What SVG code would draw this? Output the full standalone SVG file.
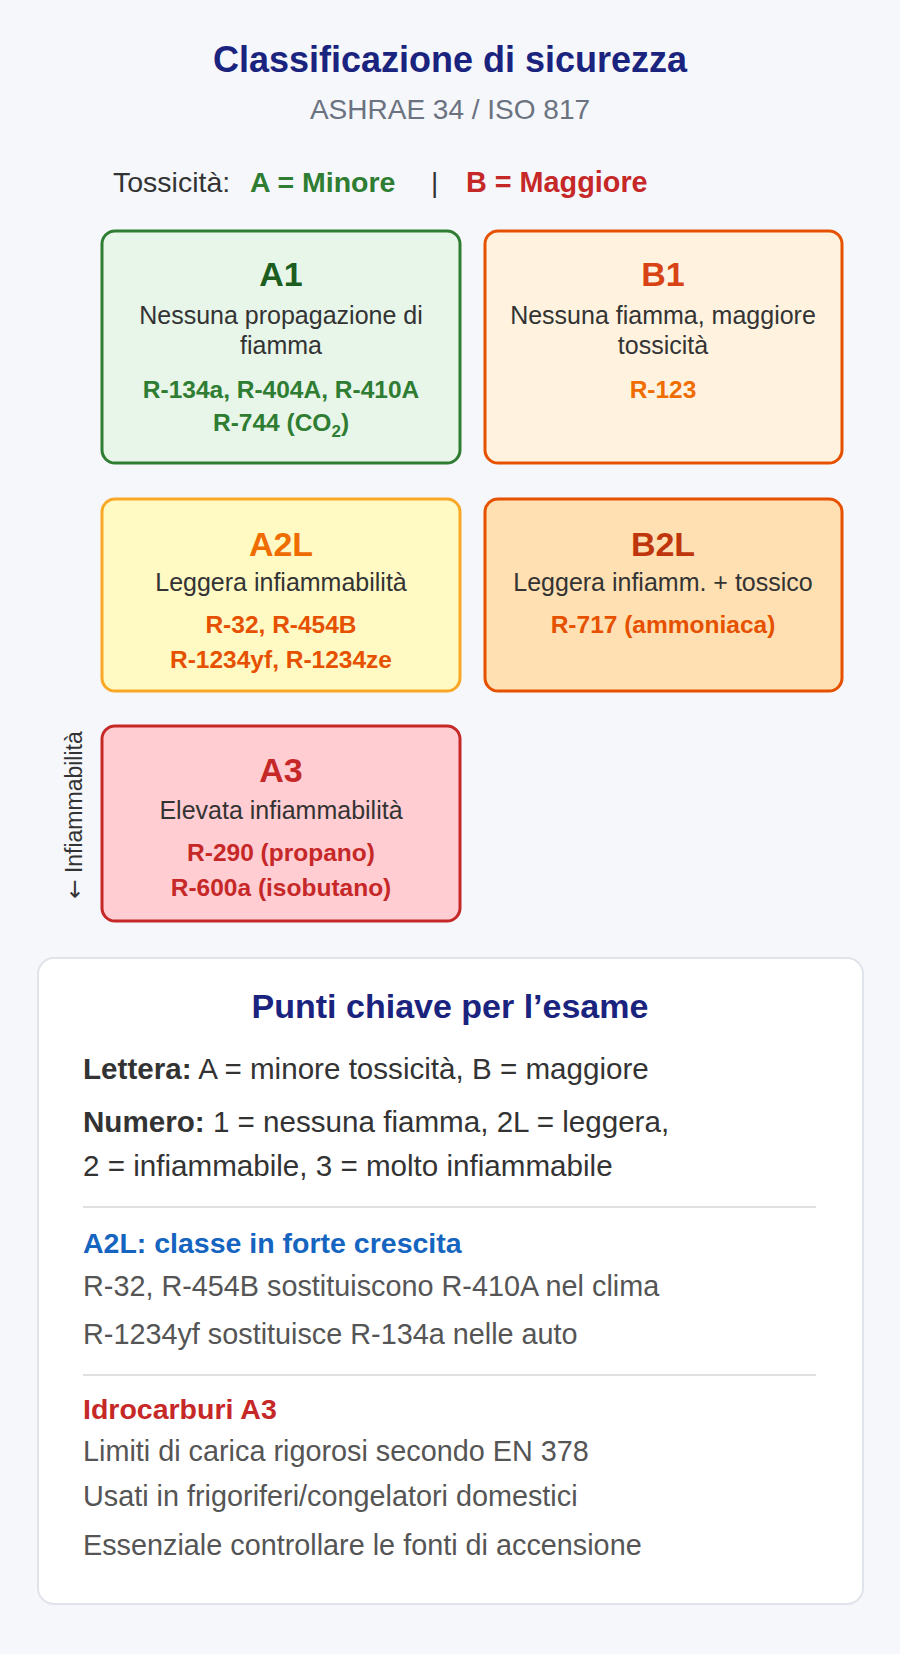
<svg xmlns="http://www.w3.org/2000/svg" width="900" height="1654" viewBox="0 0 900 1654">
<style>
text{font-family:"Liberation Sans",Arial,sans-serif}
.c{text-anchor:middle}
.bt{font-size:34px;font-weight:bold}
.d{font-size:25px;fill:#333}
.r{font-size:24.5px;font-weight:bold}
.k{font-size:29.6px;fill:#333}
.g{font-size:28.8px;fill:#555}
.h{font-size:28.5px;font-weight:bold}
</style>
<rect width="900" height="1654" fill="#f5f7fb"/>
<text class="c" x="450" y="72" font-size="36" font-weight="bold" fill="#1a237e">Classificazione di sicurezza</text>
<text class="c" x="450" y="119" font-size="28" fill="#6b7280">ASHRAE 34 / ISO 817</text>
<text x="113" y="192" font-size="28.5" fill="#333">Tossicità:</text>
<text x="250" y="192" font-size="28.5" font-weight="bold" fill="#2e7d32">A = Minore</text>
<text x="431" y="192" font-size="28" fill="#333">|</text>
<text x="466" y="192" font-size="28.8" font-weight="bold" fill="#c62828">B = Maggiore</text>
<g id="A1">
<rect x="102" y="231" width="358" height="232" rx="13" fill="#e8f5e9" stroke="#2e7d32" stroke-width="3"/>
<text class="c bt" x="281" y="286" fill="#1b5e20">A1</text>
<text class="c d" x="281" y="324">Nessuna propagazione di</text>
<text class="c d" x="281" y="354">fiamma</text>
<text class="c r" x="281" y="398" fill="#2e7d32">R-134a, R-404A, R-410A</text>
<text class="c r" x="281" y="431" fill="#2e7d32">R-744 (CO<tspan font-size="17" dy="6">2</tspan><tspan dy="-6">)</tspan></text>
</g>
<g id="B1">
<rect x="485" y="231" width="357" height="232" rx="13" fill="#fff3e0" stroke="#e65100" stroke-width="3"/>
<text class="c bt" x="663" y="286" fill="#d84315">B1</text>
<text class="c d" x="663" y="324">Nessuna fiamma, maggiore</text>
<text class="c d" x="663" y="354">tossicità</text>
<text class="c r" x="663" y="398" fill="#ef6c00">R-123</text>
</g>
<g id="A2L">
<rect x="102" y="499" width="358" height="192" rx="13" fill="#fff9c4" stroke="#f9a825" stroke-width="3"/>
<text class="c bt" x="281" y="556" fill="#ef6c00">A2L</text>
<text class="c d" x="281" y="591">Leggera infiammabilità</text>
<text class="c r" x="281" y="633" fill="#e65100">R-32, R-454B</text>
<text class="c r" x="281" y="668" fill="#e65100">R-1234yf, R-1234ze</text>
</g>
<g id="B2L">
<rect x="485" y="499" width="357" height="192" rx="13" fill="#ffe0b2" stroke="#e65100" stroke-width="3"/>
<text class="c bt" x="663" y="556" fill="#bf360c">B2L</text>
<text class="c d" x="663" y="591">Leggera infiamm. + tossico</text>
<text class="c r" x="663" y="633" fill="#e65100">R-717 (ammoniaca)</text>
</g>
<g id="A3">
<rect x="102" y="726" width="358" height="195" rx="13" fill="#ffcdd2" stroke="#c62828" stroke-width="3"/>
<text class="c bt" x="281" y="782" fill="#c62828">A3</text>
<text class="c d" x="281" y="819">Elevata infiammabilità</text>
<text class="c r" x="281" y="861" fill="#c62828">R-290 (propano)</text>
<text class="c r" x="281" y="896" fill="#c62828">R-600a (isobutano)</text>
</g>
<text class="c" transform="translate(82,815) rotate(-90)" font-size="23" fill="#333"><tspan font-family="DejaVu Sans, sans-serif">←</tspan> Infiammabilità</text>
<g id="panel">
<rect x="38" y="958" width="825" height="646" rx="16" fill="#fff" stroke="#e0e3ea" stroke-width="2"/>
<text class="c" x="450" y="1018" font-size="34" font-weight="bold" fill="#1a237e">Punti chiave per l’esame</text>
<text class="k" x="83" y="1079"><tspan font-weight="bold">Lettera:</tspan> A = minore tossicità, B = maggiore</text>
<text class="k" x="83" y="1132"><tspan font-weight="bold">Numero:</tspan> 1 = nessuna fiamma, 2L = leggera,</text>
<text class="k" x="83" y="1176">2 = infiammabile, 3 = molto infiammabile</text>
<line x1="83" y1="1207" x2="816" y2="1207" stroke="#e0e0e0" stroke-width="2"/>
<text class="h" x="83" y="1253" fill="#1565c0">A2L: classe in forte crescita</text>
<text class="g" x="83" y="1296">R-32, R-454B sostituiscono R-410A nel clima</text>
<text class="g" x="83" y="1344">R-1234yf sostituisce R-134a nelle auto</text>
<line x1="83" y1="1375" x2="816" y2="1375" stroke="#e0e0e0" stroke-width="2"/>
<text class="h" x="83" y="1419" fill="#c62828">Idrocarburi A3</text>
<text class="g" x="83" y="1461">Limiti di carica rigorosi secondo EN 378</text>
<text class="g" x="83" y="1506">Usati in frigoriferi/congelatori domestici</text>
<text class="g" x="83" y="1555">Essenziale controllare le fonti di accensione</text>
</g>
</svg>
